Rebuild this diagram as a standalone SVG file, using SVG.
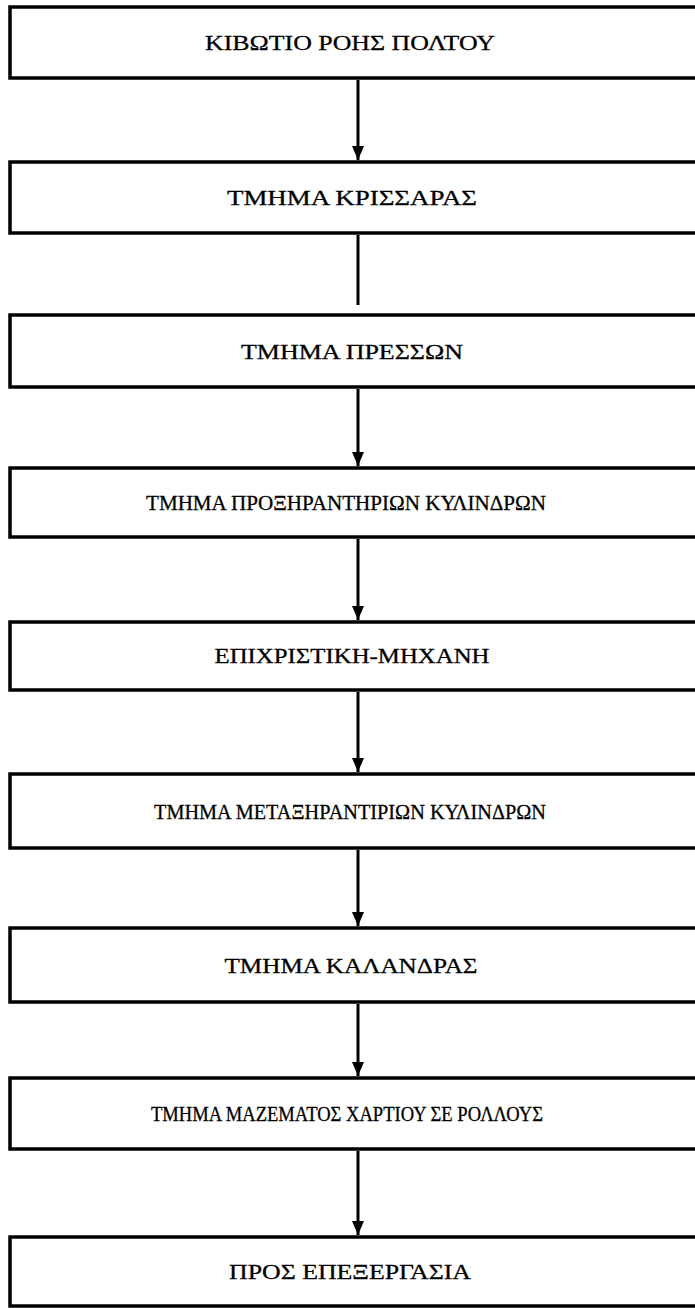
<svg xmlns="http://www.w3.org/2000/svg" width="695" height="1308" viewBox="0 0 695 1308">
<defs>
<style>
.box{fill:#fff;stroke:#000;stroke-width:3.5}
.lbl{font-family:"Liberation Serif","Times New Roman",serif;font-size:22px;fill:#000;stroke:#000;stroke-width:0.3;text-anchor:middle}
.con{stroke:#000;stroke-width:3;fill:none}
</style>
<marker id="ah" viewBox="0 0 14 12" refX="14" refY="6" markerWidth="14" markerHeight="12" markerUnits="userSpaceOnUse" orient="auto">
<path d="M0,0 L14,6 L0,12 Z" fill="#000"/>
</marker>
</defs>
<rect width="695" height="1308" fill="#fff"/>
<g id="connectors">
<line class="con" x1="358" y1="80" x2="358" y2="160" marker-end="url(#ah)"/>
<line class="con" x1="358" y1="235" x2="358" y2="305"/>
<line class="con" x1="358" y1="389" x2="358" y2="466" marker-end="url(#ah)"/>
<line class="con" x1="358" y1="539" x2="358" y2="620" marker-end="url(#ah)"/>
<line class="con" x1="358" y1="692" x2="358" y2="772" marker-end="url(#ah)"/>
<line class="con" x1="358" y1="850" x2="358" y2="926" marker-end="url(#ah)"/>
<line class="con" x1="358" y1="1004" x2="358" y2="1076" marker-end="url(#ah)"/>
<line class="con" x1="358" y1="1151" x2="358" y2="1235" marker-end="url(#ah)"/>
</g>
<g id="n1"><rect class="box" x="10" y="7" width="700" height="71"/><text class="lbl" x="350" y="50" textLength="290" lengthAdjust="spacingAndGlyphs">ΚΙΒΩΤΙΟ ΡΟΗΣ ΠΟΛΤΟΥ</text></g>
<g id="n2"><rect class="box" x="10" y="162" width="700" height="71"/><text class="lbl" x="352" y="205" textLength="250" lengthAdjust="spacingAndGlyphs">ΤΜΗΜΑ ΚΡΙΣΣΑΡΑΣ</text></g>
<g id="n3"><rect class="box" x="10" y="315" width="700" height="72"/><text class="lbl" x="352" y="359" textLength="222" lengthAdjust="spacingAndGlyphs">ΤΜΗΜΑ ΠΡΕΣΣΩΝ</text></g>
<g id="n4"><rect class="box" x="10" y="468" width="700" height="69"/><text class="lbl" x="346" y="510" textLength="400" lengthAdjust="spacingAndGlyphs">ΤΜΗΜΑ ΠΡΟΞΗΡΑΝΤΗΡΙΩΝ ΚΥΛΙΝΔΡΩΝ</text></g>
<g id="n5"><rect class="box" x="10" y="622" width="700" height="68"/><text class="lbl" x="352" y="663" textLength="275" lengthAdjust="spacingAndGlyphs">ΕΠΙΧΡΙΣΤΙΚΗ-ΜΗΧΑΝΗ</text></g>
<g id="n6"><rect class="box" x="10" y="774" width="700" height="74"/><text class="lbl" x="350" y="819" textLength="392" lengthAdjust="spacingAndGlyphs">ΤΜΗΜΑ ΜΕΤΑΞΗΡΑΝΤΙΡΙΩΝ ΚΥΛΙΝΔΡΩΝ</text></g>
<g id="n7"><rect class="box" x="10" y="928" width="700" height="74"/><text class="lbl" x="351" y="973" textLength="253" lengthAdjust="spacingAndGlyphs">ΤΜΗΜΑ ΚΑΛΑΝΔΡΑΣ</text></g>
<g id="n8"><rect class="box" x="10" y="1078" width="700" height="71"/><text class="lbl" x="347" y="1121" textLength="392" lengthAdjust="spacingAndGlyphs">ΤΜΗΜΑ ΜΑΖΕΜΑΤΟΣ ΧΑΡΤΙΟΥ ΣΕ ΡΟΛΛΟΥΣ</text></g>
<g id="n9"><rect class="box" x="10" y="1237" width="700" height="69"/><text class="lbl" x="350" y="1279" textLength="242" lengthAdjust="spacingAndGlyphs">ΠΡΟΣ ΕΠΕΞΕΡΓΑΣΙΑ</text></g>
</svg>
